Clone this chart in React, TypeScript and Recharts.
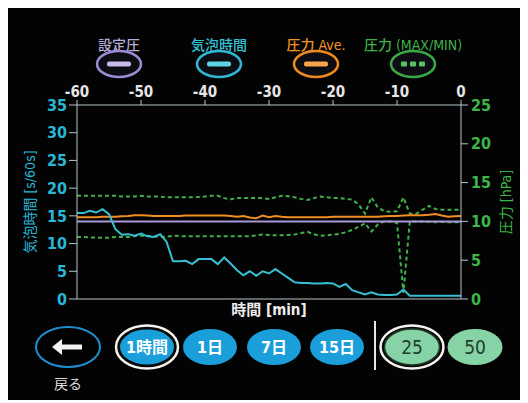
import React from "react";
import { LineChart, Line, XAxis, YAxis, Legend } from "recharts";

// time axis [min]
const minutes = [
  -60, -59, -58, -57, -56, -55, -54, -53, -52, -51, -50, -49, -48, -47, -46, -45, -44, -43, -42, -41,
  -40, -39, -38, -37, -36, -35, -34, -33, -32, -31, -30, -29, -28, -27, -26, -25, -24, -23, -22, -21,
  -20, -19, -18, -17, -16, -15, -14, -13, -12, -11, -10, -9, -8, -7, -6, -5, -4, -3, -2, -1, 0,
];

// 気泡時間 [s/60s] (left axis)
const bubbleTime = [
  15.5, 15.5, 15.9, 15.6, 16.2, 15.3, 12.6, 11.6, 11.7, 11.4, 11.8, 11.3, 11.2, 11.7, 10.3, 6.8, 6.8, 6.9, 6.3, 7.2,
  7.2, 7.2, 6.3, 7.5, 6.4, 5.2, 4.3, 5.0, 4.2, 5.0, 4.6, 5.4, 4.6, 3.8, 3.0, 2.9, 2.9, 2.8, 2.8, 2.9,
  2.8, 2.2, 2.7, 1.6, 1.2, 0.8, 1.2, 0.8, 0.7, 0.7, 0.8, 1.7, 0.6, 0.6, 0.6, 0.6, 0.6, 0.6, 0.6, 0.6, 0.6,
];

// 設定圧 [hPa]
const setPressure = [
  10, 10, 10, 10, 10, 10, 10, 10, 10, 10, 10, 10, 10, 10, 10, 10, 10, 10, 10, 10,
  10, 10, 10, 10, 10, 10, 10, 10, 10, 10, 10, 10, 10, 10, 10, 10, 10, 10, 10, 10,
  10, 10, 10, 10, 10, 10, 10, 10, 10, 10, 10, 10, 10, 10, 10, 10, 10, 10, 10, 10, 10,
];

// 圧力 Ave. [hPa]
const pressureAve = [
  10.55, 10.55, 10.55, 10.55, 10.6, 10.6, 10.6, 10.65, 10.7, 10.8, 10.8, 10.75, 10.7, 10.7, 10.7, 10.7, 10.7, 10.75, 10.75, 10.75,
  10.75, 10.75, 10.75, 10.75, 10.7, 10.6, 10.7, 10.5, 10.4, 10.75, 10.55, 10.7, 10.6, 10.55, 10.55, 10.55, 10.55, 10.55, 10.55, 10.55,
  10.6, 10.6, 10.6, 10.6, 10.6, 10.6, 10.6, 10.6, 10.65, 10.7, 10.7, 10.75, 10.8, 10.8, 10.8, 10.85, 10.95, 10.75, 10.6, 10.65, 10.7,
];

// 圧力 MAX [hPa]
const pressureMax = [
  13.3, 13.3, 13.3, 13.3, 13.3, 13.3, 13.3, 13.2, 13.2, 13.2, 13.3, 13.2, 13.2, 13.2, 13.1, 13.1, 13.1, 13.1, 13.1, 13.15,
  13.2, 13.3, 13.3, 13.0, 12.85, 13.0, 13.0, 13.0, 13.0, 13.0, 12.9, 13.1, 13.3, 13.25, 13.1, 12.9, 12.75, 13.0, 13.2, 13.1,
  13.0, 13.0, 12.9, 12.8, 12.2, 11.0, 13.1, 11.8, 11.3, 11.25, 11.3, 13.1, 11.0, 11.0, 11.5, 12.0, 11.6, 11.5, 11.5, 11.5, 11.5,
];

// 圧力 MIN [hPa]
const pressureMin = [
  8.0, 8.0, 7.95, 7.9, 7.9, 7.9, 8.0, 8.0, 8.0, 8.1, 8.15, 8.15, 8.1, 8.0, 8.05, 8.15, 8.1, 8.1, 8.1, 8.1,
  8.1, 8.1, 8.1, 8.1, 8.1, 8.1, 8.1, 8.1, 8.2, 8.3, 8.25, 8.2, 8.2, 8.25, 8.3, 8.5, 8.65, 8.35, 8.15, 8.2,
  8.3, 8.4, 8.6, 8.9, 9.3, 9.75, 8.7, 9.6, 10.0, 10.0, 9.8, 0.8, 10.0, 10.0, 10.0, 9.95, 9.9, 9.95, 9.9, 9.9, 9.9,
];

const timeTicks = [-60, -50, -40, -30, -20, -10, 0];
const bubbleTicks = [0, 5, 10, 15, 20, 25, 30, 35];
const pressureTicks = [0, 5, 10, 15, 20, 25];

const legendLabels = ["設定圧", "気泡時間", "圧力 Ave.", "圧力 (MAX/MIN)"];
const periodButtons = ["1時間", "1日", "7日", "15日"];
const scaleButtons = ["25", "50"];

const NUM_FONT = "'Liberation Sans Narrow', 'DejaVu Sans Condensed', 'Noto Sans CJK JP', sans-serif";
const JP_FONT = "'Noto Sans CJK JP', sans-serif";

const C_SET = "#a898d8";
const C_BUBBLE = "#35c0d6";
const C_AVE = "#f28d24";
const C_MAXMIN = "#3fb04a";
const C_AXIS = "#b7c6cc";

const legendColors = [
  { label: "#b4add8", ring: "#9c8cd6", bar: "#c9baee", dashed: false },
  { label: C_BUBBLE, ring: "#2fb8d4", bar: "#5fd2e2", dashed: false },
  { label: "#f39326", ring: "#f08a1c", bar: "#f7a54a", dashed: false },
  { label: C_MAXMIN, ring: "#3aa844", bar: "#55c45c", dashed: true },
];

const rows = minutes.map((t, i) => ({
  t,
  set: setPressure[i],
  bubble: bubbleTime[i],
  ave: pressureAve[i],
  max: pressureMax[i],
  min: pressureMin[i],
}));

const renderLegend = () => {
  const xs = [111, 211, 308, 405];
  return (
    <svg width={512} height={52} style={{ display: "block" }}>
      {legendLabels.map((label, i) => {
        const cx = xs[i];
        const c = legendColors[i];
        return (
          <g key={label}>
            <text x={cx} y={22} textAnchor="middle" fill={c.label} fontSize={14} fontFamily={NUM_FONT} fontWeight={500}>
              {label}
            </text>
            <ellipse cx={cx} cy={36} rx={22} ry={13} fill="#0c0c12" stroke={c.ring} strokeWidth={2.5} />
            {c.dashed ? (
              [-9, 0, 9].map((d) => <rect key={d} x={cx + d - 3} y={33.5} width={6} height={5} rx={1} fill={c.bar} />)
            ) : (
              <rect x={cx - 12} y={33.5} width={24} height={5} rx={2} fill={c.bar} />
            )}
          </g>
        );
      })}
    </svg>
  );
};

const Buttons = () => {
  const periodX = [139, 202, 266, 329];
  const scaleX = [404, 467];
  const cy = 339;
  return (
    <svg width={512} height={392} style={{ position: "absolute", left: 0, top: 0, pointerEvents: "none" }}>
      {/* back button */}
      <ellipse cx={60} cy={cy} rx={32} ry={20} fill="none" stroke="#1f8fd0" strokeWidth={2} />
      <rect x={52} y={cy - 2.5} width={22} height={5} fill="#f2f2f2" />
      <polygon points={`${44},${cy} ${54},${cy - 8} ${54},${cy + 8}`} fill="#f2f2f2" />
      <text x={60} y={381} textAnchor="middle" fill="#dcdcdc" fontSize={14} fontFamily={JP_FONT}>
        戻る
      </text>
      {periodButtons.map((label, i) => {
        const cx = periodX[i];
        const active = i === 0;
        return (
          <g key={label}>
            {active && <ellipse cx={cx} cy={cy} rx={31} ry={21.5} fill="#0a0a0a" stroke="#f4f4ee" strokeWidth={2.5} />}
            <ellipse cx={cx} cy={cy} rx={27} ry={active ? 17.5 : 18} fill="#1a9fdb" />
            <text x={cx} y={cy + 5.5} textAnchor="middle" fill="#ffffff" fontSize={16} fontWeight={700} fontFamily={NUM_FONT}>
              {label}
            </text>
          </g>
        );
      })}
      <line x1={367} y1={313} x2={367} y2={362} stroke="#e8e8e8" strokeWidth={2} />
      {scaleButtons.map((label, i) => {
        const cx = scaleX[i];
        const active = i === 0;
        return (
          <g key={label}>
            {active && <ellipse cx={cx} cy={cy} rx={31.5} ry={21.5} fill="#0a0a0a" stroke="#f4f4ee" strokeWidth={2.5} />}
            <ellipse cx={cx} cy={cy} rx={27.5} ry={18} fill="#86d4a6" stroke={active ? "#1e3a2a" : "none"} strokeWidth={1.5} />
            <text x={cx} y={cy + 7} textAnchor="middle" fill="#1f3d2e" fontSize={19} fontFamily={NUM_FONT}>
              {label}
            </text>
          </g>
        );
      })}
    </svg>
  );
};

export default function App() {
  return (
    <div style={{ position: "relative", width: 512, height: 392, background: "#030303", fontFamily: JP_FONT }}>
      <LineChart width={512} height={392} data={rows} margin={{ top: 72, right: 19, bottom: 71, left: 29 }}>
        <Legend
          layout="horizontal"
          verticalAlign="middle"
          align="center"
          content={renderLegend}
          wrapperStyle={{ top: 20, left: 0, width: 512, height: 52 }}
        />
        <XAxis
          xAxisId="top"
          orientation="top"
          type="number"
          dataKey="t"
          domain={[-60, 0]}
          ticks={timeTicks}
          height={25}
          stroke={C_AXIS}
          tickSize={5}
          tickMargin={3}
          tick={{ fill: "#e6e6e6", fontSize: 15, fontFamily: NUM_FONT, fontWeight: 700 }}
        />
        <XAxis
          xAxisId="bottom"
          orientation="bottom"
          type="number"
          dataKey="t"
          domain={[-60, 0]}
          height={30}
          stroke={C_AXIS}
          tick={false}
          tickLine={false}
          label={{
            value: "時間 [min]",
            position: "insideBottom",
            offset: 14,
            fill: "#eeeeee",
            fontSize: 15,
            fontWeight: 700,
            fontFamily: NUM_FONT,
          }}
        />
        <YAxis
          yAxisId="b"
          orientation="left"
          domain={[0, 35]}
          ticks={bubbleTicks}
          width={40}
          stroke={C_AXIS}
          tickSize={8}
          tickMargin={2}
          tick={{ fill: "#2ab7d6", fontSize: 16, fontFamily: NUM_FONT, fontWeight: 700 }}
          label={{
            value: "気泡時間 [s/60s]",
            angle: -90,
            position: "left",
            offset: 7,
            fill: "#2ab7d6",
            fontSize: 14,
            fontFamily: NUM_FONT,
            style: { textAnchor: "middle" },
          }}
        />
        <YAxis
          yAxisId="p"
          orientation="right"
          domain={[0, 25]}
          ticks={pressureTicks}
          width={40}
          stroke={C_AXIS}
          tickSize={7}
          tickMargin={3}
          tick={{ fill: "#3db54a", fontSize: 16, fontFamily: NUM_FONT, fontWeight: 700 }}
          label={{
            value: "圧力 [hPa]",
            angle: -90,
            position: "right",
            offset: 5,
            fill: "#3db54a",
            fontSize: 14,
            fontFamily: NUM_FONT,
            style: { textAnchor: "middle" },
          }}
        />
        <Line xAxisId="top" yAxisId="p" dataKey="max" stroke={C_MAXMIN} strokeWidth={2} strokeDasharray="4 3" dot={false} isAnimationActive={false} />
        <Line xAxisId="top" yAxisId="p" dataKey="min" stroke={C_MAXMIN} strokeWidth={2} strokeDasharray="4 3" dot={false} isAnimationActive={false} />
        <Line xAxisId="top" yAxisId="p" dataKey="set" stroke={C_SET} strokeWidth={2} dot={false} isAnimationActive={false} />
        <Line xAxisId="top" yAxisId="p" dataKey="ave" stroke={C_AVE} strokeWidth={2} dot={false} isAnimationActive={false} />
        <Line xAxisId="top" yAxisId="b" dataKey="bubble" stroke={C_BUBBLE} strokeWidth={2} dot={false} isAnimationActive={false} />
      </LineChart>
      <Buttons />
    </div>
  );
}
